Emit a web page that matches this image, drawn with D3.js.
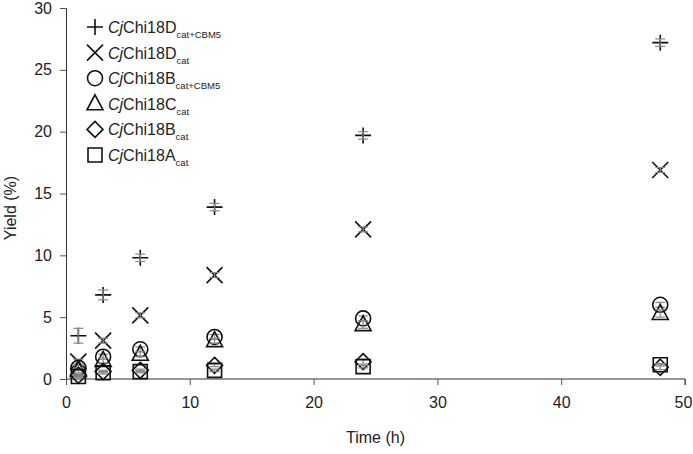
<!DOCTYPE html>
<html>
<head>
<meta charset="utf-8">
<script src="https://cdn.jsdelivr.net/npm/d3@7"></script>
<style>
  body { margin: 0; background: #fff; }
  text { font-family: "Liberation Sans", Arial, sans-serif; fill: #222; }
</style>
</head>
<body>
<div class="container"></div>
<script>
const w = 693;
const h = 454;
const margin = { top: 8, right: 8, bottom: 75, left: 66 };

// sampling times (h)
const times = [1, 3, 6, 12, 24, 48];

// series names (base, subscript)
const names = [
  ["Chi18D", "cat+CBM5"],
  ["Chi18D", "cat"],
  ["Chi18B", "cat+CBM5"],
  ["Chi18C", "cat"],
  ["Chi18B", "cat"],
  ["Chi18A", "cat"]
];
const shapes = ["plus", "cross", "circle", "triangle", "diamond", "square"];

// yields (%)
const d18DcatCBM = [3.5, 6.8, 9.8, 13.9, 19.7, 27.2];
const d18Dcat    = [1.4, 3.1, 5.15, 8.4, 12.1, 16.9];
const b18BcatCBM = [0.9, 1.8, 2.4, 3.4, 4.9, 6.0];
const c18Ccat    = [0.7, 1.5, 2.0, 3.1, 4.4, 5.3];
const b18Bcat    = [0.3, 0.6, 0.7, 1.1, 1.4, 0.95];
const a18Acat    = [0.2, 0.5, 0.6, 0.7, 1.0, 1.15];

// standard deviations (%)
const e18DcatCBM = [0.6, 0.4, 0.3, 0.3, 0.3, 0.3];
const e18Dcat    = [0.2, 0.2, 0.2, 0.2, 0.2, 0.2];
const e18BcatCBM = [0.2, 0.2, 0.2, 0.2, 0.2, 0.2];
const e18Ccat    = [0.2, 0.2, 0.2, 0.2, 0.3, 0.3];
const e18Bcat    = [0.1, 0.1, 0.1, 0.1, 0.2, 0.2];
const e18Acat    = [0.1, 0.1, 0.1, 0.1, 0.1, 0.1];

const xTicks = [0, 10, 20, 30, 40, 50];
const yTicks = [0, 5, 10, 15, 20, 25, 30];

const values = [d18DcatCBM, d18Dcat, b18BcatCBM, c18Ccat, b18Bcat, a18Acat];
const errors = [e18DcatCBM, e18Dcat, e18BcatCBM, e18Ccat, e18Bcat, e18Acat];

const width = w - margin.left - margin.right;
const height = h - margin.top - margin.bottom;

const svg = d3.select('.container').append('svg')
  .attr('width', w)
  .attr('height', h);

const chart = svg.append('g')
  .attr('transform', `translate(${margin.left}, ${margin.top})`);

const x = d3.scaleLinear().domain([0, 50]).range([0, width]);
const y = d3.scaleLinear().domain([0, 30]).range([height, 0]);

// axes
const xAxis = chart.append('g')
  .attr('transform', `translate(0, ${height})`)
  .call(d3.axisBottom(x).tickValues(xTicks).tickSize(6).tickPadding(12));
const yAxis = chart.append('g')
  .call(d3.axisLeft(y).tickValues(yTicks).tickSize(6).tickPadding(8));

[xAxis, yAxis].forEach(a => {
  a.select('.domain').attr('stroke', '#333').attr('stroke-width', 1);
  a.selectAll('.tick line').attr('stroke', '#555');
  a.selectAll('.tick text').attr('font-size', 16).attr('fill', '#222')
    .style('font-family', '"Liberation Sans", Arial, sans-serif');
});
xAxis.select('.domain').attr('d', `M0.5,0H${width}V6`);
yAxis.select('.domain').attr('d', `M-6,0.5H0.5V${height}`);
xAxis.selectAll('.tick:last-of-type text').attr('dx', -2);

chart.append('text')
  .attr('x', width / 2)
  .attr('y', height + 64)
  .attr('text-anchor', 'middle')
  .attr('font-size', 16)
  .text('Time (h)');

chart.append('text')
  .attr('transform', `translate(${16 - margin.left}, ${200}) rotate(-90)`)
  .attr('text-anchor', 'middle')
  .attr('font-size', 16)
  .text('Yield (%)');

function markerPath(shape) {
  switch (shape) {
    case 'plus': return 'M-8,0H8M0,-8V8';
    case 'cross': return 'M-8,-8L8,8M-8,8L8,-8';
    case 'circle': return 'M7.5,0A7.5,7.5 0 1 1 -7.5,0A7.5,7.5 0 1 1 7.5,0Z';
    case 'triangle': return 'M0,-9L8,6H-8Z';
    case 'diamond': return 'M0,-8L8,0L0,8L-8,0Z';
    case 'square': return 'M-7,-7H7V7H-7Z';
  }
}

values.forEach((vals, s) => {
  const g = chart.append('g').attr('class', 'series-' + s);
  const pts = times.map((t, i) => ({ t, v: vals[i], e: errors[s][i] }));

  g.selectAll('path.mark')
    .data(pts)
    .enter().append('path')
    .attr('class', 'mark')
    .attr('transform', d => `translate(${x(d.t)}, ${y(d.v)})`)
    .attr('d', markerPath(shapes[s]))
    .attr('fill', 'none')
    .attr('stroke', '#111')
    .attr('stroke-width', 1.6);

  const eb = g.selectAll('g.err')
    .data(pts)
    .enter().append('g')
    .attr('class', 'err')
    .attr('stroke', '#888')
    .attr('stroke-width', 1.2);
  eb.append('line')
    .attr('x1', d => x(d.t)).attr('x2', d => x(d.t))
    .attr('y1', d => y(d.v - d.e)).attr('y2', d => y(d.v + d.e));
  eb.append('line')
    .attr('x1', d => x(d.t) - 5).attr('x2', d => x(d.t) + 5)
    .attr('y1', d => y(d.v - d.e)).attr('y2', d => y(d.v - d.e));
  eb.append('line')
    .attr('x1', d => x(d.t) - 5).attr('x2', d => x(d.t) + 5)
    .attr('y1', d => y(d.v + d.e)).attr('y2', d => y(d.v + d.e));
});

// legend
const legend = svg.append('g')
  .attr('transform', 'translate(95, 27)')
  .selectAll('g')
  .data(names)
  .enter().append('g')
  .attr('transform', (d, i) => `translate(0, ${i * 25.6})`);

legend.append('path')
  .attr('d', (d, i) => markerPath(shapes[i]))
  .attr('fill', 'none')
  .attr('stroke', '#111')
  .attr('stroke-width', 1.6);

const lt = legend.append('text')
  .attr('x', 13)
  .attr('y', 6)
  .attr('font-size', 16);
lt.append('tspan').attr('font-style', 'italic').text('Cj');
lt.append('tspan').text(d => d[0]);
lt.append('tspan').attr('font-size', 9.5).attr('dy', 5).text(d => d[1]);
</script>
</body>
</html>
